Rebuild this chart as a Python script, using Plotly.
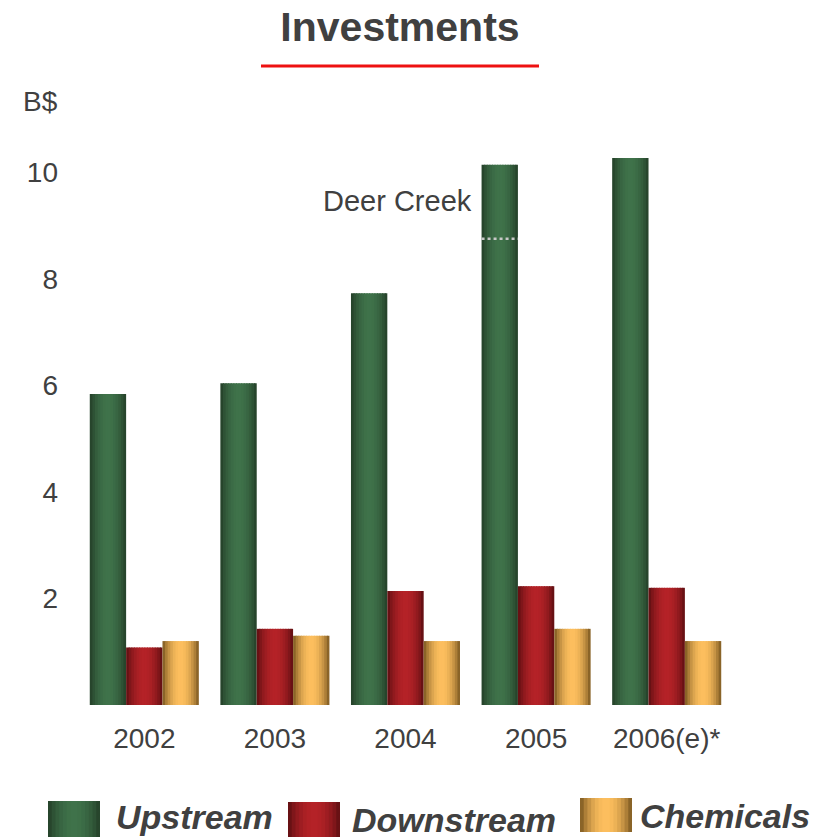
import math
import plotly.graph_objects as go

# ---------------- data ----------------
years = ["2002", "2003", "2004", "2005", "2006(e)*"]
upstream = [5.84, 6.04, 7.73, 10.14, 10.27]
downstream = [1.08, 1.43, 2.14, 2.23, 2.20]
chemicals = [1.20, 1.30, 1.20, 1.43, 1.20]
series_names = ["Upstream", "Downstream", "Chemicals"]
deer_creek_year = "2005"
deer_creek_value = 8.75
y_tick_values = [2, 4, 6, 8, 10]
y_tick_labels = ["2", "4", "6", "8", "10"]

# ---------------- style ----------------
OFF = 8  # page body margin offset
W, H = 833 - OFF, 837 - OFF
ML, MR, MT, MB = 79 - OFF, 101, 119 - OFF, 132
PW, PH = W - ML - MR, H - MT - MB
TEXT = "#404040"
FONT = "Arial, 'Liberation Sans', sans-serif"

palette = {
    "Upstream": ("#213a25", "#3f724a"),
    "Downstream": ("#560d10", "#b42227"),
    "Chemicals": ("#6f4e1b", "#fdbf5e"),
}


def hex2rgb(h):
    h = h.lstrip("#")
    return [int(h[i:i + 2], 16) for i in (0, 2, 4)]


def mix(c1, c2, t):
    a, b = hex2rgb(c1), hex2rgb(c2)
    return "rgb(%d,%d,%d)" % tuple(round(a[i] + (b[i] - a[i]) * t) for i in range(3))


def shade(u):
    return math.sin(math.pi * u) ** 0.75


def px_x(px):
    return (px - OFF - ML) / PW


def px_y(py):
    return (H - MB - (py - OFF)) / PH


N = 14
group = 0.835
slot = group / 3

fig = go.Figure()
for k, (name, vals) in enumerate(zip(series_names, [upstream, downstream, chemicals])):
    edge, center = palette[name]
    start = -group / 2 + k * slot
    sw = slot / N
    for i in range(N):
        col = mix(edge, center, shade((i + 0.5) / N))
        fig.add_trace(go.Bar(
            x=years, y=vals, name=name,
            offset=start + i * sw,
            width=sw * (1.4 if i < N - 1 else 1.0),
            marker=dict(color=col, line=dict(width=0)),
            showlegend=False, hovertemplate=name + ": %{y}<extra></extra>",
        ))

# Deer Creek marker on 2005 upstream bar
dc_idx = years.index(deer_creek_year)
fig.add_shape(type="line", xref="x", yref="y",
              x0=dc_idx - group / 2, x1=dc_idx - group / 2 + slot,
              y0=deer_creek_value, y1=deer_creek_value,
              line=dict(color="#c8c8c8", width=2.5, dash="dot"), layer="above")
fig.add_annotation(xref="x", yref="y", x=dc_idx - group / 2, y=9.47,
                   text="Deer Creek", showarrow=False, xanchor="right", yanchor="middle",
                   xshift=-8, font=dict(size=29, color=TEXT, family=FONT))

# unit label
fig.add_annotation(xref="paper", yref="paper", x=px_x(60), y=px_y(101),
                   text="B$", showarrow=False, xanchor="right", yanchor="middle",
                   font=dict(size=28, color=TEXT, family=FONT))

# red line under title
fig.add_shape(type="line", xref="paper", yref="paper",
              x0=px_x(261), x1=px_x(539), y0=px_y(66), y1=px_y(66),
              line=dict(color="#ee1111", width=3))

# custom legend
legend_pos = {
    "Upstream": (48, 100, 801, 837, 114, 817),
    "Downstream": (288, 340, 802, 837, 350, 820),
    "Chemicals": (580, 632, 798, 832, 638, 816),
}
for name in series_names:
    x0, x1, y0, y1, tx, ty = legend_pos[name]
    edge, center = palette[name]
    sw = (x1 - x0) / N
    for i in range(N):
        col = mix(edge, center, shade((i + 0.5) / N))
        fig.add_shape(type="rect", xref="paper", yref="paper",
                      x0=px_x(x0 + i * sw), x1=px_x(min(x1, x0 + (i + 1.4) * sw)),
                      y0=px_y(y1), y1=px_y(y0),
                      fillcolor=col, line=dict(width=0))
    fig.add_annotation(xref="paper", yref="paper", x=px_x(tx), y=px_y(ty),
                       text="<b><i>%s</i></b>" % name, showarrow=False,
                       xanchor="left", yanchor="middle",
                       font=dict(size=34, color=TEXT, family=FONT))

fig.update_layout(
    width=W, height=H,
    margin=dict(l=ML, r=MR, t=MT, b=MB, pad=0),
    barmode="overlay",
    paper_bgcolor="white", plot_bgcolor="white",
    showlegend=False,
    title=dict(text="<b>Investments</b>", x=(400 - OFF) / W, xanchor="center",
               y=1 - (27 - OFF) / H, yanchor="middle", xref="container", yref="container",
               font=dict(size=41, color=TEXT, family=FONT)),
    xaxis=dict(type="category", range=[-0.5, len(years) - 0.5],
               showgrid=False, zeroline=False, showline=False, ticks="",
               tickfont=dict(size=28, color=TEXT, family=FONT),
               ticklabelstandoff=14),
    yaxis=dict(range=[0, 11], tickvals=y_tick_values, ticktext=y_tick_labels,
               showgrid=False, zeroline=False, showline=False, ticks="",
               tickfont=dict(size=28, color=TEXT, family=FONT),
               ticklabelstandoff=20),
)

fig.write_html("out.html")
